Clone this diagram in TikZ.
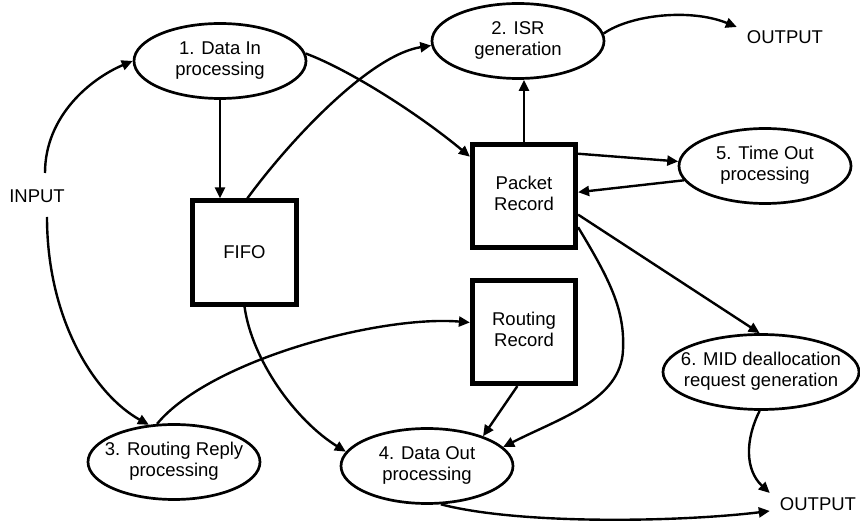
\documentclass[tikz,border=0pt]{standalone}
\usepackage{fontspec}
\setmainfont{Liberation Sans}
\usetikzlibrary{arrows.meta,shapes.geometric}
\newcommand\ztxt[2]{\makebox[0pt]{\raisebox{#1}{\begin{tabular}{@{}c@{}}#2\end{tabular}}}}
\begin{document}
\begin{tikzpicture}[x=1pt,y=-1pt,
  every node/.style={font=\fontsize{18.5}{21}\selectfont},
  proc/.style={draw,ellipse,line width=2.7pt,inner sep=0pt,minimum width=172pt,minimum height=75pt},
  store/.style={draw,rectangle,line width=4.7pt,minimum size=103.5pt,inner sep=0pt},
  lbl/.style={inner xsep=10pt,inner ysep=4pt},
  arr/.style={line width=2.4pt,-{Triangle[length=11pt,width=10pt]}}
]
\useasboundingbox[fill=white] (0,0) rectangle (860,526);

\node[proc] (d1) at (220,61) {\ztxt{-4pt}{1. Data In\\processing}};
\node[proc] (isr) at (518,41) {\ztxt{-4pt}{2. ISR\\generation}};
\node[proc] (to) at (765,166) {\ztxt{-4pt}{5. Time Out\\processing}};
\node[proc] (d3) at (174,462) {\ztxt{-4pt}{3. Routing Reply\\processing}};
\node[proc] (d4) at (427,466) {\ztxt{-4pt}{4. Data Out\\processing}};
\node[proc,minimum width=196pt] (d6) at (761,372) {\ztxt{-4pt}{6. MID deallocation\\request generation}};

\node[store] (fifo) at (244.5,252.5) {FIFO};
\node[store] (pr) at (524,196) {\ztxt{2pt}{Packet\\Record}};
\node[store] (rr) at (524,332) {\ztxt{2pt}{Routing\\Record}};

\node[lbl] (inp) at (37,196) {INPUT};
\node[lbl] (out1) at (785,37) {OUTPUT};
\node[lbl] (out2) at (818,504) {OUTPUT};

\coordinate (inA) at (45,173);
\coordinate (inB) at (47,217);

\draw[arr] (inA) .. controls (45,115) and (92,78) .. (d1.west);
\draw[arr] (inB) .. controls (47,320) and (95,395) .. (d3.124);
\draw[arr] (d1.south) -- (d1.south |- fifo.north);
\draw[arr] (d1.5) .. controls (350,70) and (420,115) .. (pr.144);
\draw[arr] (fifo.87) .. controls (290,140) and (370,55) .. (isr.183);
\draw[arr] (pr.north) -- (pr.north |- isr.south);
\draw[arr] (isr.5) .. controls (630,15) and (690,8) .. ([yshift=10pt]out1.west);
\draw[arr] (pr.38) -- (to.177);
\draw[arr] (to.190) -- (pr.4);
\draw[arr] (pr.341) -- (d6.92);
\draw[arr] (pr.330) .. controls (610,280) and (625,310) .. (623,350) .. controls (621,400) and (560,418) .. (d4.14);
\draw[arr] (rr.263) -- (d4.28);
\draw[arr] (d3.114) .. controls (210,360) and (380,315) .. (rr.170);
\draw[arr] (fifo.south) .. controls (252,360) and (295,420) .. (d4.170);
\draw[arr] (d4.290) .. controls (520,525) and (680,522) .. ([yshift=-7pt]out2.west);
\draw[arr] (d6.268) .. controls (745,440) and (745,470) .. ([yshift=11pt]out2.west);
\end{tikzpicture}
\end{document}
